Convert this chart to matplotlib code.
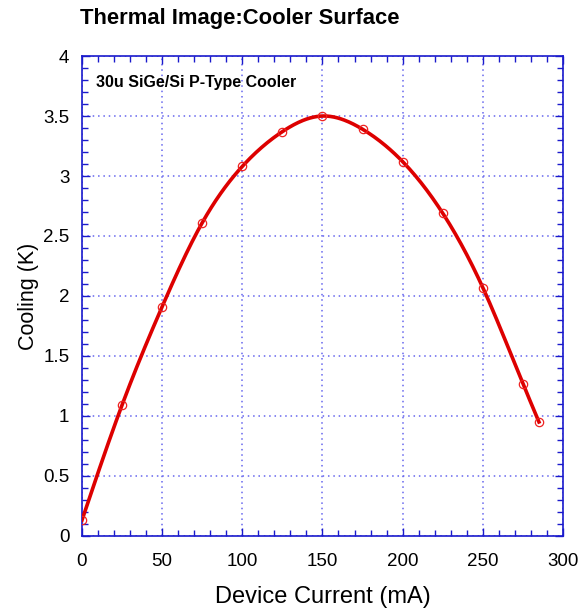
import numpy as np
import matplotlib
matplotlib.use("Agg")
import matplotlib.pyplot as plt
from matplotlib.ticker import MultipleLocator

plt.rcParams['font.family'] = ['Liberation Sans', 'DejaVu Sans']

current = [0, 25, 50, 75, 100, 125, 150, 175, 200, 225, 250, 275, 285]
cooling = [0.13, 1.09, 1.91, 2.61, 3.08, 3.37, 3.50, 3.39, 3.12, 2.69, 2.07, 1.27, 0.95]

def natural_spline(x, y, xs):
    x = np.asarray(x, float); y = np.asarray(y, float)
    n = len(x)
    h = np.diff(x)
    A = np.zeros((n, n)); b = np.zeros(n)
    A[0, 0] = A[-1, -1] = 1
    for i in range(1, n - 1):
        A[i, i - 1] = h[i - 1]
        A[i, i] = 2 * (h[i - 1] + h[i])
        A[i, i + 1] = h[i]
        b[i] = 3 * ((y[i + 1] - y[i]) / h[i] - (y[i] - y[i - 1]) / h[i - 1])
    c = np.linalg.solve(A, b)
    out = np.empty_like(xs)
    for k, xv in enumerate(xs):
        i = min(max(np.searchsorted(x, xv) - 1, 0), n - 2)
        dx = xv - x[i]
        bi = (y[i + 1] - y[i]) / h[i] - h[i] * (2 * c[i] + c[i + 1]) / 3
        di = (c[i + 1] - c[i]) / (3 * h[i])
        out[k] = y[i] + bi * dx + c[i] * dx ** 2 + di * dx ** 3
    return out

fig = plt.figure(figsize=(5.81, 6.09), dpi=100)
ax = fig.add_axes([0.141, 0.120, 0.828, 0.788])

xs = np.linspace(current[0], current[-1], 400)
ax.plot(xs, natural_spline(current, cooling, xs), color='#dd0000', lw=2.6, zorder=3)
ax.plot(current, cooling, 'o', mfc='none', mec='#ee2222', ms=6, mew=0.9, zorder=4)

ax.set_xlim(0, 300)
ax.set_ylim(0, 4)
ax.xaxis.set_major_locator(MultipleLocator(50))
ax.xaxis.set_minor_locator(MultipleLocator(10))
ax.yaxis.set_major_locator(MultipleLocator(0.5))
ax.yaxis.set_minor_locator(MultipleLocator(0.1))
ax.set_yticks([0, 0.5, 1, 1.5, 2, 2.5, 3, 3.5, 4])
ax.set_yticklabels(['0', '0.5', '1', '1.5', '2', '2.5', '3', '3.5', '4'])

blue = '#1a1acc'
for s in ax.spines.values():
    s.set_color(blue)
    s.set_linewidth(1.2)
ax.tick_params(which='both', direction='in', top=True, right=True, colors=blue,
               labelcolor='black', labelsize=13.5)
ax.tick_params(which='major', length=6, width=1)
ax.tick_params(which='minor', length=4, width=1)
ax.tick_params(axis='x', pad=12)
ax.tick_params(axis='y', pad=9)
ax.grid(True, which='major', color='#6666ee', linestyle=(0, (1, 2.5)), lw=1.1)

ax.set_xlabel('Device Current (mA)', fontsize=17, labelpad=12)
ax.set_ylabel('Cooling (K)', fontsize=15.5, labelpad=3)
fig.text(0.138, 0.970, 'Thermal Image:Cooler Surface', fontsize=15.8, fontweight='bold',
         ha='left', va='center')
ax.text(0.030, 0.945, '30u SiGe/Si P-Type Cooler', transform=ax.transAxes,
        fontsize=11.5, fontweight='bold', ha='left', va='center')

fig.savefig('out.png', dpi=100)
